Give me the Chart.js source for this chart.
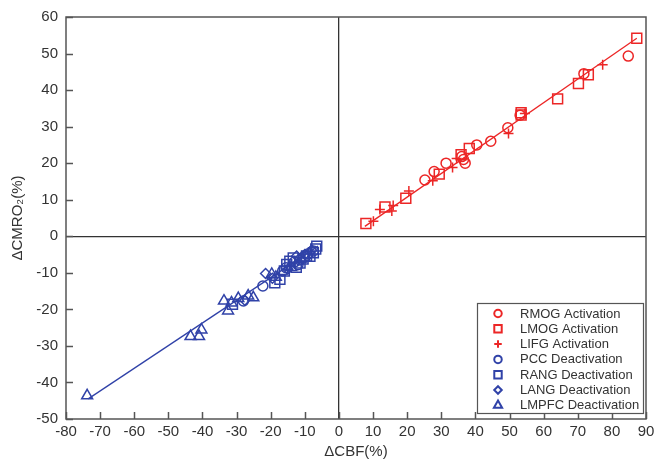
<!DOCTYPE html>
<html>
<head>
<meta charset="utf-8">
<script src="https://cdn.jsdelivr.net/npm/chart.js@4"></script>
<style>
  html, body { margin: 0; padding: 0; background: #fff; }
  #wrap { width: 667px; height: 463px; }
</style>
</head>
<body>
<div id="wrap"><canvas id="chart" width="667" height="463"></canvas></div>
<script>
// Activation (red)
const rmogX = [25.2, 27.9, 31.4, 36.0, 37.0, 36.5, 40.4, 44.5, 49.5, 53.1, 71.8, 84.8];
const rmogY = [15.4, 17.7, 20.0, 21.8, 20.0, 21.0, 25.0, 26.0, 29.7, 33.1, 44.5, 49.3];
const lmogX = [7.9, 13.5, 19.6, 29.4, 35.8, 38.2, 53.4, 53.4, 64.1, 70.2, 73.1, 87.3];
const lmogY = [3.5, 8.0, 10.4, 17.0, 22.3, 24.0, 33.8, 33.2, 37.6, 41.8, 44.2, 54.2];
const lifgX = [10.1, 12.0, 15.5, 15.9, 20.5, 27.5, 33.3, 34.5, 49.7, 54.5, 77.3];
const lifgY = [4.1, 7.3, 6.9, 8.4, 12.4, 15.2, 18.8, 21.3, 28.1, 33.6, 46.9];

// Deactivation (blue)
const pccX = [-28.0, -22.3, -16.5, -15.5, -13.0, -12.0, -11.5, -10.0, -9.0, -7.5];
const pccY = [-17.7, -13.6, -9.5, -8.6, -7.0, -7.8, -6.5, -5.8, -4.8, -4.0];
const rangX = [-31.2, -18.8, -17.3, -16.0, -15.3, -14.4, -13.4, -12.5, -11.4, -10.5, -9.5, -8.5, -7.5, -6.8, -6.5];
const rangY = [-18.6, -12.7, -11.8, -9.5, -7.7, -6.8, -5.9, -8.5, -7.3, -6.2, -5.4, -5.5, -4.5, -3.5, -2.7];
const langX = [-27.6, -21.5, -19.5, -15.0, -12.4, -10.0, -8.0];
const langY = [-17.5, -10.2, -11.5, -9.0, -5.4, -5.0, -3.8];
const lmpfcX = [-73.8, -43.5, -41.0, -40.3, -33.7, -32.5, -31.5, -29.5, -26.6, -25.1, -19.7, -18.5, -14.0, -11.0];
const lmpfcY = [-43.6, -27.4, -27.4, -25.6, -17.7, -20.4, -18.2, -17.0, -16.3, -16.8, -10.4, -11.2, -8.5, -6.0];

// fitted lines
const redFitX = [7.6, 87.3];
const redFitY = [2.7, 54.2];
const blueFitX = [-73.5, -6.1];
const blueFitY = [-44.5, -2.7];

const RED = 'rgb(236, 38, 38)';
const BLUE = 'rgb(48, 66, 168)';
const FONT = "'Liberation Sans', Arial, sans-serif";

const pts = (xs, ys) => xs.map((x, i) => ({ x, y: ys[i] }));

function markerSet(label, xs, ys, color, style, radius) {
  return {
    label,
    data: pts(xs, ys),
    showLine: false,
    pointStyle: style,
    pointRadius: radius,
    pointHoverRadius: radius,
    pointBorderWidth: 1.5,
    borderColor: color,
    pointBorderColor: color,
    pointBackgroundColor: 'rgba(0,0,0,0)',
    backgroundColor: 'rgba(0,0,0,0)'
  };
}

function fitLine(xs, ys, color) {
  return {
    label: '',
    data: pts(xs, ys),
    showLine: true,
    borderColor: color,
    borderWidth: 1.3,
    pointRadius: 0,
    fill: false
  };
}

const datasets = [
  fitLine(redFitX, redFitY, RED),
  fitLine(blueFitX, blueFitY, BLUE),
  markerSet('RMOG Activation', rmogX, rmogY, RED, 'circle', 5),
  markerSet('LMOG Activation', lmogX, lmogY, RED, 'rect', 7),
  markerSet('LIFG Activation', lifgX, lifgY, RED, 'cross', 5),
  markerSet('PCC Deactivation', pccX, pccY, BLUE, 'circle', 5),
  markerSet('RANG Deactivation', rangX, rangY, BLUE, 'rect', 7),
  markerSet('LANG Deactivation', langX, langY, BLUE, 'rectRot', 5),
  markerSet('LMPFC Deactivation', lmpfcX, lmpfcY, BLUE, 'triangle', 6.3)
];

// frame + inward ticks
const frameTicks = {
  id: 'frameTicks',
  beforeDatasetsDraw(chart) {
    const { ctx, chartArea: a, scales: { x, y } } = chart;
    ctx.save();
    ctx.strokeStyle = '#555';
    ctx.lineWidth = 1.5;
    ctx.beginPath();
    x.ticks.forEach(t => {
      const px = Math.round(x.getPixelForValue(t.value)) + 0.5;
      ctx.moveTo(px, a.bottom);
      ctx.lineTo(px, a.bottom - 7);
    });
    y.ticks.forEach(t => {
      const py = Math.round(y.getPixelForValue(t.value)) + 0.5;
      ctx.moveTo(a.left, py);
      ctx.lineTo(a.left + 7, py);
    });
    ctx.stroke();
    ctx.strokeRect(a.left, a.top, a.right - a.left, a.bottom - a.top);
    ctx.restore();
  }
};

// boxed legend in the lower right corner
const boxLegend = {
  id: 'boxLegend',
  afterDatasetsDraw(chart) {
    const { ctx, chartArea: a } = chart;
    const marks = chart.data.datasets.filter(d => d.label);
    const left = 477, top = 303, right = a.right - 3, bottom = a.bottom - 6;
    ctx.save();
    ctx.fillStyle = '#fff';
    ctx.fillRect(left, top, right - left, bottom - top);
    ctx.strokeStyle = '#555';
    ctx.lineWidth = 1.2;
    ctx.strokeRect(left + 0.5, top + 0.5, right - left, bottom - top);
    ctx.font = '13px ' + FONT;
    ctx.textBaseline = 'middle';
    marks.forEach((d, i) => {
      const cy = top + 10.5 + i * 15.3;
      ctx.strokeStyle = d.borderColor;
      ctx.fillStyle = 'rgba(0,0,0,0)';
      ctx.lineWidth = 2;
      Chart.helpers.drawPoint(ctx, { pointStyle: d.pointStyle, rotation: 0, radius: d.pointRadius * 0.75, borderWidth: 2 }, 498, cy);
      ctx.fillStyle = '#333';
      ctx.fillText(d.label, 520, cy + 0.5);
    });
    ctx.restore();
  }
};

new Chart(document.getElementById('chart'), {
  type: 'scatter',
  data: { datasets },
  plugins: [frameTicks, boxLegend],
  options: {
    responsive: false,
    animation: false,
    devicePixelRatio: 1,
    layout: { padding: { top: 13, right: 21, bottom: 0, left: 0 } },
    plugins: { legend: { display: false }, tooltip: { enabled: false } },
    scales: {
      x: {
        type: 'linear',
        min: -80, max: 90,
        afterFit: s => { s.height = 44; },
        ticks: { stepSize: 10, color: '#333', padding: 4, font: { family: FONT, size: 15 } },
        grid: { drawTicks: false, lineWidth: 1.3, color: c => c.tick && c.tick.value === 0 ? '#333' : 'rgba(0,0,0,0)' },
        border: { display: false },
        title: { display: true, text: 'ΔCBF(%)', color: '#333', padding: { top: 0, bottom: 2 }, font: { family: FONT, size: 15 } }
      },
      y: {
        type: 'linear',
        min: -50, max: 60,
        afterFit: s => { s.width = 66; },
        ticks: { stepSize: 10, color: '#333', padding: 8, font: { family: FONT, size: 15 } },
        grid: { drawTicks: false, lineWidth: 1.3, color: c => c.tick && c.tick.value === 0 ? '#333' : 'rgba(0,0,0,0)' },
        border: { display: false },
        title: { display: true, text: 'ΔCMRO₂(%)', color: '#333', padding: { top: 9, bottom: 0 }, font: { family: FONT, size: 15 } }
      }
    }
  }
});
</script>
</body>
</html>
